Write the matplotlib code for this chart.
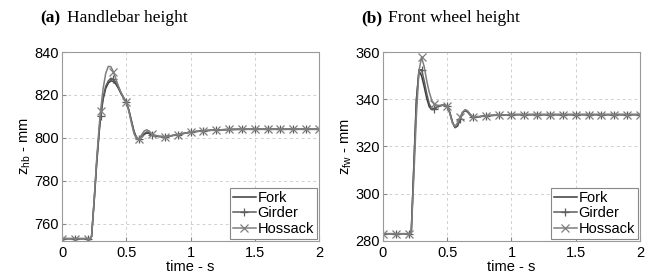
import matplotlib
matplotlib.use("Agg")
import matplotlib.pyplot as plt

# ---------------- data ----------------
t_hb = [0.0, 0.1, 0.2, 0.22, 0.23, 0.25, 0.27, 0.29, 0.30, 0.32, 0.34, 0.36, 0.38, 0.40,
        0.42, 0.44, 0.46, 0.48, 0.50, 0.52, 0.54, 0.56, 0.58, 0.60, 0.62, 0.64, 0.66,
        0.68, 0.70, 0.75, 0.80, 0.90, 1.00, 1.10, 1.20, 1.30, 1.40, 1.50, 1.60, 1.70,
        1.80, 1.90, 2.00]
hb_fork = [753, 753, 753, 753, 754, 770, 788, 803, 809.5, 818, 823, 825.5, 826.6, 826.3,
           825, 823, 820.5, 818.5, 816.5, 813, 808, 803, 800, 799.4, 800.3, 801.6, 802.3,
           802, 801.2, 800.6, 800.5, 801.5, 802.7, 803.3, 803.7, 803.9, 804, 804, 804, 804,
           804, 804, 804]
hb_girder = [753, 753, 753, 753, 754, 770.5, 789, 804, 810, 819, 824, 826.5, 827.8, 827.3,
             825.8, 823.5, 821, 818.8, 816.7, 813, 808, 803, 800, 799.4, 800.6, 802, 802.8,
             802.4, 801.4, 800.7, 800.5, 801.5, 802.7, 803.3, 803.7, 803.9, 804, 804, 804,
             804, 804, 804, 804]
hb_hossack = [753, 753, 753, 753, 754, 771, 790, 806, 812.5, 823, 830, 833.3, 833.2, 830.8,
              827.3, 824, 821, 818.5, 816.5, 812.5, 807, 802, 799.5, 799.5, 801.5, 803.2,
              803.8, 803, 801.6, 800.8, 800.5, 801.5, 802.7, 803.3, 803.7, 803.9, 804, 804,
              804, 804, 804, 804, 804]

t_fw = [0.0, 0.1, 0.2, 0.22, 0.24, 0.26, 0.28, 0.30, 0.32, 0.34, 0.36, 0.38, 0.40, 0.42,
        0.44, 0.46, 0.48, 0.50, 0.52, 0.54, 0.56, 0.58, 0.60, 0.62, 0.64, 0.66, 0.68, 0.70,
        0.75, 0.80, 0.90, 1.00, 1.10, 1.20, 1.30, 1.40, 1.50, 1.60, 1.70, 1.80, 1.90, 2.00]
fw_fork = [283, 283, 283, 283.5, 312, 340, 352, 350, 345.5, 340.5, 336.8, 335.6, 335.7,
           336.6, 337.1, 337.4, 337.5, 337, 334.5, 330.5, 328, 328.6, 331.5, 334.3, 335.2,
           334.5, 333.2, 332.4, 332.6, 333, 333.3, 333.5, 333.5, 333.5, 333.5, 333.5, 333.5,
           333.5, 333.5, 333.5, 333.5, 333.5]
fw_girder = [283, 283, 283, 283.5, 311, 339, 352.5, 352.5, 348, 342.5, 338, 336.2, 336,
             336.8, 337.2, 337.5, 337.5, 337, 334.3, 330.3, 328, 328.8, 331.8, 334.5, 335.4,
             334.7, 333.3, 332.5, 332.6, 333, 333.3, 333.5, 333.5, 333.5, 333.5, 333.5,
             333.5, 333.5, 333.5, 333.5, 333.5, 333.5]
fw_hossack = [283, 283, 283, 283.5, 307, 333, 352, 357.8, 354, 348, 343, 339.5, 338,
              337.5, 337.4, 337.5, 337.5, 337, 334, 330, 328.5, 330, 332.5, 334.5, 335.6,
              335, 333.6, 332.6, 332.7, 333, 333.3, 333.5, 333.5, 333.5, 333.5, 333.5,
              333.5, 333.5, 333.5, 333.5, 333.5, 333.5]

x_ticks = [0, 0.5, 1, 1.5, 2]
x_ticklabels = ["0", "0.5", "1", "1.5", "2"]
hb_ticks = [760, 780, 800, 820, 840]
fw_ticks = [280, 300, 320, 340, 360]
labels = ["Fork", "Girder", "Hossack"]

# ---------------- style ----------------
plt.rcParams['font.family'] = ['Liberation Sans', 'DejaVu Sans']
fig = plt.figure(figsize=(6.61, 2.80), dpi=100)

colors = ["#3a3a3a", "#5c5c5c", "#7e7e7e"]
markers = [None, "+", "x"]
FS = 10.5


def mark_idx(t):
    return [i for i, v in enumerate(t) if abs(round(v * 10) - v * 10) < 1e-6]


def make_ax(rect, t, series, ylim, yticks, ylabel, title_bold, title_rest):
    ax = fig.add_axes(rect)
    idx = mark_idx(t)
    for s, c, m, lab in zip(series, colors, markers, labels):
        ax.plot(t, s, color=c, lw=1.1, marker=m, markevery=idx, ms=5.5, mew=0.9,
                label=lab)
    ax.set_xlim(0, 2)
    ax.set_ylim(*ylim)
    ax.set_xticks(x_ticks)
    ax.set_xticklabels(x_ticklabels)
    ax.set_yticks(yticks)
    ax.grid(True, ls=(0, (3, 3)), color="#d0d0d0", lw=0.7)
    ax.tick_params(direction="in", length=3, labelsize=FS, color="#888888")
    ax.tick_params(axis="x", pad=4)
    ax.tick_params(axis="y", pad=2)
    for sp in ax.spines.values():
        sp.set_color("#9a9a9a")
        sp.set_linewidth(0.8)
    ax.set_xlabel("time - s", fontsize=FS, labelpad=0)
    ax.set_ylabel(ylabel, fontsize=FS, labelpad=1)
    leg = ax.legend(loc="lower right", fontsize=FS, handlelength=1.6,
                    handletextpad=0.1, borderpad=0.2, labelspacing=0.1,
                    fancybox=False, borderaxespad=0.15, framealpha=1)
    leg.get_frame().set_edgecolor("#888888")
    leg.get_frame().set_linewidth(0.8)
    x_title = rect[0] - 0.033
    fig.text(x_title, 0.935, title_bold, fontsize=12.5, fontweight="bold",
             family=["Liberation Serif"], va="center", ha="left")
    fig.text(x_title + 0.041, 0.935, title_rest, fontsize=12.5,
             family=["Liberation Serif"], va="center", ha="left")
    return ax


make_ax([0.0938, 0.14, 0.3888, 0.674], t_hb, [hb_fork, hb_girder, hb_hossack],
        (752, 840), hb_ticks, r"z$_\mathregular{hb}$ - mm", "(a)", "Handlebar height")
make_ax([0.5794, 0.14, 0.3888, 0.674], t_fw, [fw_fork, fw_girder, fw_hossack],
        (280, 360), fw_ticks, r"z$_\mathregular{fw}$ - mm", "(b)", "Front wheel height")

fig.savefig("out.png", dpi=100)
